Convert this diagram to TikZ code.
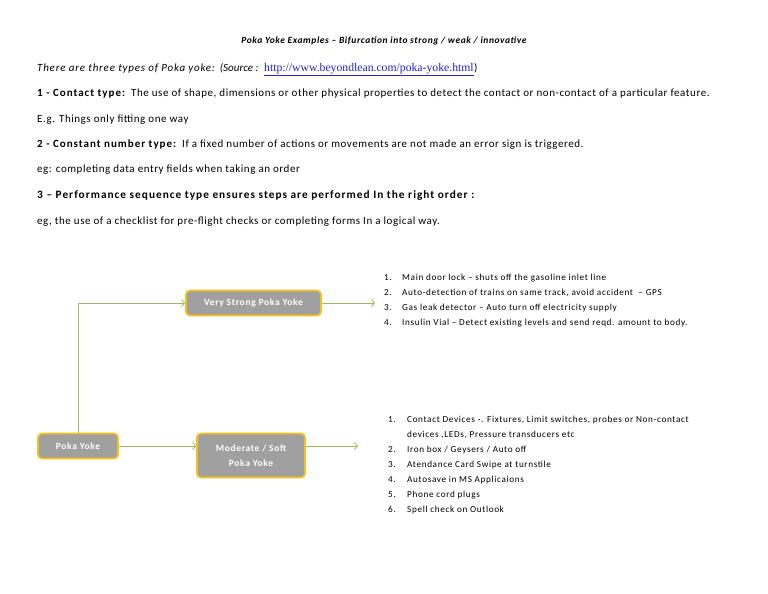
\documentclass[tikz,border=0pt]{standalone}
\usepackage{fontspec}
\setmainfont{Carlito}
\newfontfamily\linkfont{Liberation Serif}
\newfontfamily\bodyfont[LetterSpace=5]{Carlito}
\newfontfamily\introfont[LetterSpace=7]{Carlito}
\newfontfamily\headfont[LetterSpace=9]{Carlito}
\newfontfamily\itemfont[LetterSpace=7]{Carlito}
\newfontfamily\blkfont[LetterSpace=7]{Carlito}
\newfontfamily\titlefont[LetterSpace=6]{Carlito}
\newfontfamily\orderfont{Carlito}
\usetikzlibrary{arrows.meta, positioning}
\definecolor{boxgray}{HTML}{A0A0A0}
\definecolor{boxgold}{HTML}{F2C21B}
\definecolor{arrgreen}{HTML}{9BBB59}
\definecolor{linkblue}{HTML}{2222CC}
\newcommand{\headpart}[1]{{\headfont\bfseries #1}}
\tikzset{
  txt/.style={anchor=base west, inner sep=0pt, font=\bodyfont\fontsize{11}{13}\selectfont},
  item/.style={anchor=base west, inner sep=0pt, font=\itemfont\fontsize{9.2}{11}\selectfont},
  pyblk/.style={
    rectangle, draw=boxgold, line width=1.8pt, fill=boxgray,
    rounded corners=4pt, text=white, align=center,
    inner sep=0pt, font=\blkfont\fontsize{9.5}{15}\selectfont\bfseries
  },
  garr/.style={draw=arrgreen, line width=0.8pt, -{Straight Barb[length=3pt,width=7pt]}}
}

\begin{document}
\begin{tikzpicture}[x=1pt, y=-1pt]
  \useasboundingbox[fill=white] (0,0) rectangle (768,594);

  % header text
  \node[anchor=base, inner sep=0pt, font=\titlefont\fontsize{9.5}{11}\selectfont\bfseries\itshape]
    (title) at (384,44) {Poka Yoke Examples – Bifurcation into strong / weak / innovative};
  \node[txt] (intro) at (37,71)
    {\introfont\itshape There are three types of Poka yoke:\hspace{5pt}{\orderfont\itshape(Source\ :}};
  \node[txt] (link) at (264,71)
    {\linkfont\fontsize{11.7}{13}\selectfont\color{linkblue}\underline{http://www.beyondlean.com/poka-yoke.html}};
  \node[txt] (introend) at (link.base east) {)};
  \node[txt] (t1)  at (37,96)  {\headpart{1 - Contact type:}\ \ The use of shape, dimensions or other physical properties to detect the contact or non-contact of a particular feature.};
  \node[txt] (e1)  at (37,122) {E.g. Things only fitting one way};
  \node[txt] (t2)  at (37,147) {\headpart{2 - Constant number type:}\ \ If a fixed number of actions or movements are not made an error sign is triggered.};
  \node[txt] (e2)  at (37,172) {eg: completing data entry fields when taking an order};
  \node[txt] (t3) at (37,198)
    {\headfont\bfseries\fontsize{11.3}{13}\selectfont 3 – Performance sequence type ensures steps are performed In the right order :};
  \node[txt] (e3)  at (37,224) {eg, the use of a checklist for pre-flight checks or completing forms In a logical way.};

  % blocks
  \node[pyblk, minimum width=80pt, minimum height=25pt]  (poka)   at (78,446)    {Poka Yoke};
  \node[pyblk, minimum width=135pt, minimum height=25pt] (strong) at (253.5,303) {Very Strong Poka Yoke};
  \node[pyblk, minimum width=108pt, minimum height=44pt] (soft)   at (251,455.5) {Moderate / Soft\\Poka Yoke};
  \coordinate (strongend) at (375,303);
  \coordinate (softend)   at (358,446);

  \draw[garr] (poka.north) |- (strong.west);
  \draw[garr] (poka.east) -- (soft.west |- poka.east);
  \draw[garr] (strong.east) -- (strongend);
  \draw[garr] (soft.east |- poka.east) -- (softend);

  % strong examples
  \node[item] (s1n) at (384,280) {1.};
  \node[item] (s1)  at (402,280) {Main door lock – shuts off the gasoline inlet line};
  \node[item] (s2n) at (384,295) {2.};
  \node[item] (s2)  at (402,295) {Auto-detection of trains on same track, avoid accident\ \ – GPS};
  \node[item] (s3n) at (384,310) {3.};
  \node[item] (s3)  at (402,310) {Gas leak detector – Auto turn off electricity supply};
  \node[item] (s4n) at (384,325) {4.};
  \node[item] (s4)  at (402,325) {Insulin Vial – Detect existing levels and send reqd. amount to body.};

  % soft examples
  \node[item] (m1n) at (388,422) {1.};
  \node[item] (m1)  at (407,422) {Contact Devices -. Fixtures, Limit switches, probes or Non-contact};
  \node[item] (m1b) at (407,437) {devices ,LEDs, Pressure transducers etc};
  \node[item] (m2n) at (388,452) {2.};
  \node[item] (m2)  at (407,452) {Iron box / Geysers / Auto off};
  \node[item] (m3n) at (388,467) {3.};
  \node[item] (m3)  at (407,467) {Atendance Card Swipe at turnstile};
  \node[item] (m4n) at (388,482) {4.};
  \node[item] (m4)  at (407,482) {Autosave in MS Applicaions};
  \node[item] (m5n) at (388,497) {5.};
  \node[item] (m5)  at (407,497) {Phone cord plugs};
  \node[item] (m6n) at (388,512) {6.};
  \node[item] (m6)  at (407,512) {Spell check on Outlook};
\end{tikzpicture}
\end{document}
